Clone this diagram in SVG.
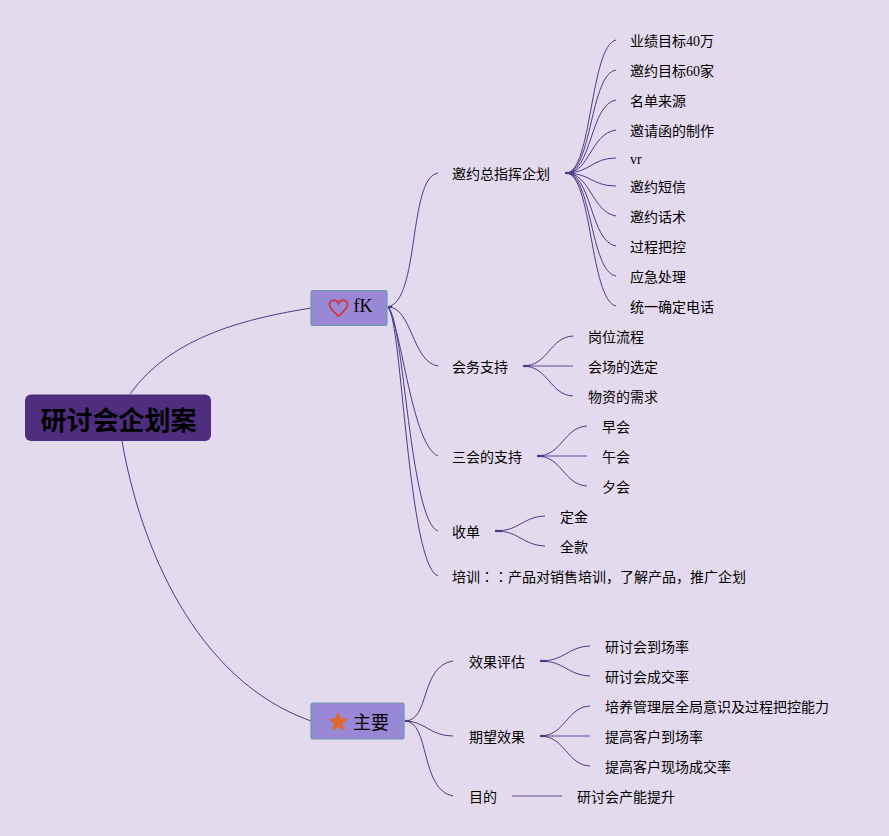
<svg xmlns="http://www.w3.org/2000/svg" width="889" height="836" viewBox="0 0 889 836">
<style>
text{font-family:"Liberation Serif","Noto Sans CJK SC",serif;fill:#000;text-spacing-trim:space-all}
.t{font-size:14px}
.j{font-family:"Noto Sans CJK JP",sans-serif}
.c path{fill:none;stroke:#4d3a86;stroke-width:1;}
.c .h{stroke:#4d3a86;stroke-width:2.2}
.c .s{stroke:#6d5aa0;stroke-width:1.4;stroke-opacity:.75}
.n{fill:#9888d6;stroke:#6e97a8;stroke-width:1.2}
</style>
<rect width="889" height="836" fill="#e4daee"/>
<g id="connectors" class="c">
<path d="M130,394C172,335 250,318 311,308"/>
<path d="M122,441C140,545 195,680 311,721"/>
<path d="M388,307C420,300 408,178 438,173"/>
<path d="M388,307C412,307 412,362 438,366"/>
<path d="M388,307C402,330 412,445 438,456"/>
<path d="M388,307C404,320 410,522 438,531"/>
<path d="M388,307C402,320 408,565 438,576"/>
<path d="M405,721C430,721 420,666 453,661"/>
<path d="M405,721C425,721 430,736 453,736"/>
<path d="M405,721C430,721 420,790 453,796"/>
<path d="M566,173C592,173 590,46 616,40"/>
<path d="M566,173C592,173 590,74 616,70"/>
<path d="M566,173C592,173 590,104 616,100"/>
<path d="M566,173C590,173 590,134 616,130"/>
<path d="M566,173C590,173 592,158 616,158"/>
<path d="M566,173C590,173 592,186 616,186"/>
<path d="M566,173C590,173 592,212 616,216"/>
<path d="M566,173C592,173 590,242 616,246"/>
<path d="M566,173C592,173 590,272 616,276"/>
<path d="M566,173C592,173 590,300 616,306"/>
<path class="h" d="M565,173H571"/>
<path d="M523,366C548,366 550,337 573,336"/>
<path class="s" d="M523,366H573"/>
<path d="M523,366C548,366 550,395 573,396"/>
<path class="h" d="M523,366H530"/>
<path d="M537,456C562,456 564,427 587,426"/>
<path class="s" d="M537,456H587"/>
<path d="M537,456C562,456 564,485 587,486"/>
<path class="h" d="M537,456H544"/>
<path d="M495,531C520,531 522,517 545,516"/>
<path d="M495,531C520,531 522,545 545,546"/>
<path class="h" d="M495,531H502"/>
<path d="M540,661C565,661 567,647 590,646"/>
<path d="M540,661C565,661 567,675 590,676"/>
<path class="h" d="M540,661H547"/>
<path d="M540,736C565,736 567,707 590,706"/>
<path class="s" d="M540,736H590"/>
<path d="M540,736C565,736 567,765 590,766"/>
<path class="h" d="M540,736H547"/>
<path class="s" d="M512,796H562"/>
<path class="h" d="M405,721H410"/>
<path class="h" d="M388,307H392"/>
</g>
<g id="root"><rect x="25" y="394.500" width="186" height="46.500" rx="6" fill="#4f2e80"/><text x="118.500" y="430" text-anchor="middle" font-size="26" font-weight="700">研讨会企划案</text></g>
<g id="node-fk"><rect class="n" x="311" y="290.500" width="76" height="35" rx="2"/><path d="M338.500,316C332,310.500 329.500,307.800 329.500,304.800C329.500,299.500 336.500,298.500 338.500,303.500C340.500,298.500 347.500,299.500 347.500,304.800C347.500,307.800 345,310.500 338.500,316Z" fill="none" stroke="#d0383c" stroke-width="1.800"/><text x="353.500" y="312" font-size="18">fK</text></g>
<g id="node-main"><rect class="n" x="311" y="703" width="93" height="36" rx="2"/><path d="M338,711.500L340.800,718.200L348,718.800L342.500,723.500L344.200,730.700L338,726.900L331.800,730.700L333.500,723.500L328,718.800L335.200,718.200Z" fill="#e0672f"/><text x="353" y="729" font-size="18">主要</text></g>
<g id="n1"><text class="t" x="452" y="179">邀约总指挥企划</text></g>
<g id="n2"><text class="t" x="630" y="46">业绩目标40万</text></g>
<g id="n3"><text class="t" x="630" y="76">邀约目标60家</text></g>
<g id="n4"><text class="t" x="630" y="106">名单来源</text></g>
<g id="n5"><text class="t" x="630" y="136">邀请函的制作</text></g>
<g id="n6"><text class="t" x="630" y="164">vr</text></g>
<g id="n7"><text class="t" x="630" y="192">邀约短信</text></g>
<g id="n8"><text class="t" x="630" y="222">邀约话术</text></g>
<g id="n9"><text class="t" x="630" y="252">过程把控</text></g>
<g id="n10"><text class="t" x="630" y="282">应急处理</text></g>
<g id="n11"><text class="t" x="630" y="312">统一确定电话</text></g>
<g id="n12"><text class="t" x="452" y="372">会务支持</text></g>
<g id="n13"><text class="t" x="588" y="342">岗位流程</text></g>
<g id="n14"><text class="t" x="588" y="372">会场的选定</text></g>
<g id="n15"><text class="t" x="588" y="402">物资的需求</text></g>
<g id="n16"><text class="t" x="452" y="462">三会的支持</text></g>
<g id="n17"><text class="t" x="602" y="432">早会</text></g>
<g id="n18"><text class="t" x="602" y="462">午会</text></g>
<g id="n19"><text class="t" x="602" y="492">夕会</text></g>
<g id="n20"><text class="t" x="452" y="537">收单</text></g>
<g id="n21"><text class="t" x="560" y="522">定金</text></g>
<g id="n22"><text class="t" x="560" y="552">全款</text></g>
<g id="n23"><text class="t" x="452" y="582">培训<tspan class="j">：：</tspan>产品对销售培训，了解产品，推广企划</text></g>
<g id="n24"><text class="t" x="469" y="667">效果评估</text></g>
<g id="n25"><text class="t" x="605" y="652">研讨会到场率</text></g>
<g id="n26"><text class="t" x="605" y="682">研讨会成交率</text></g>
<g id="n27"><text class="t" x="469" y="742">期望效果</text></g>
<g id="n28"><text class="t" x="605" y="712">培养管理层全局意识及过程把控能力</text></g>
<g id="n29"><text class="t" x="605" y="742">提高客户到场率</text></g>
<g id="n30"><text class="t" x="605" y="772">提高客户现场成交率</text></g>
<g id="n31"><text class="t" x="469" y="802">目的</text></g>
<g id="n32"><text class="t" x="577" y="802">研讨会产能提升</text></g>
</svg>
